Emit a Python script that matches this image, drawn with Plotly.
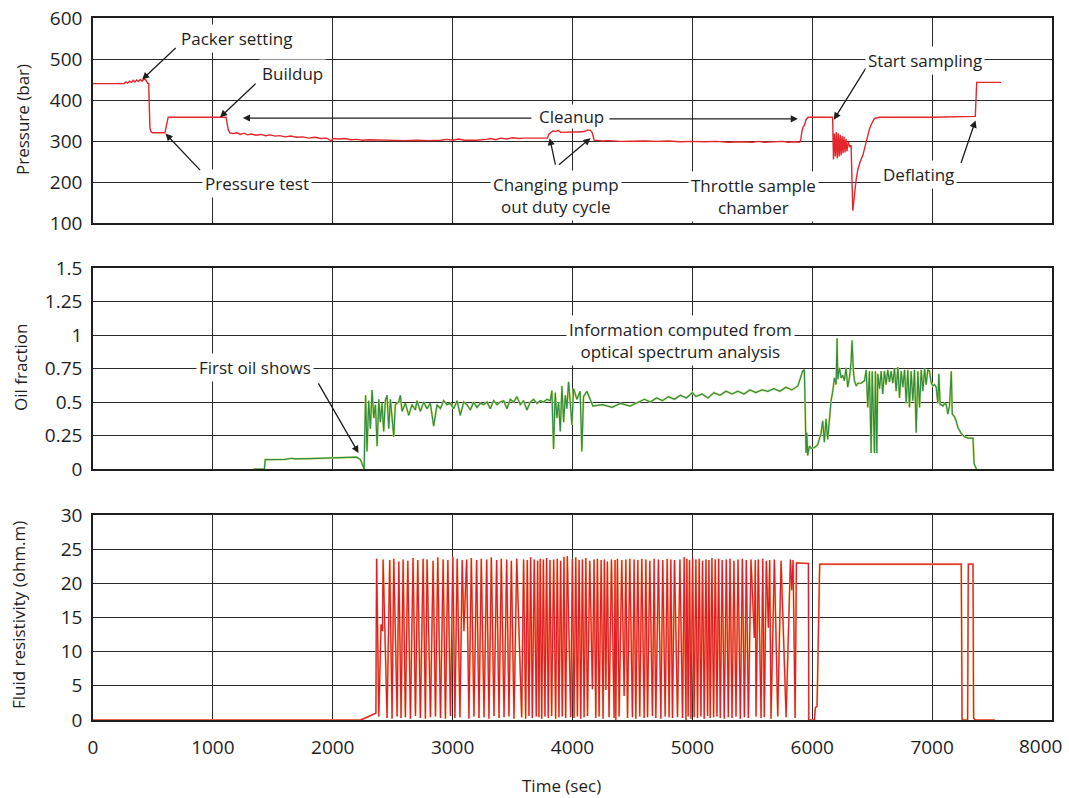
import plotly.graph_objects as go

# ---------------- data ----------------
x_ticks = [0, 1000, 2000, 3000, 4000, 5000, 6000, 7000]
x_last_tick = 8000
p_ticks = [100, 200, 300, 400, 500, 600]
oil_ticks = [0, 0.25, 0.5, 0.75, 1, 1.25, 1.5]
oil_tick_text = ["0", "0.25", "0.5", "0.75", "1", "1.25", "1.5"]
res_ticks = [0, 5, 10, 15, 20, 25, 30]

pressure_time = [0, 260, 275, 290, 305, 320, 335, 350, 365, 380, 395, 410, 425, 440, 455, 465, 470, 475, 485, 500,
                 600, 608, 615, 627, 1110, 1118, 1128, 1141, 1170, 1200, 1230, 1260, 1290, 1320, 1360, 1400, 1440,
                 1480, 1520, 1560, 1600, 1650, 1700, 1750, 1800, 1850, 1900, 1950, 1990, 2000, 2050, 2100, 2150,
                 2200, 2250, 2300, 2400, 2500, 2600, 2700, 2800, 2900, 2950, 3000, 3050, 3100, 3200, 3280, 3320,
                 3360, 3400, 3450, 3500, 3550, 3600, 3700, 3790, 3805, 3820, 3840, 3860, 3880, 3900, 3950, 4000,
                 4050, 4100, 4125, 4150, 4165, 4180, 4250, 4300, 4400, 4500, 4600, 4700, 4800, 4900, 5000, 5100,
                 5200, 5300, 5400, 5500, 5550, 5600, 5700, 5750, 5800, 5850, 5895, 5905, 5915, 5925, 5935, 5948,
                 5965, 6170, 6177, 6185, 6193, 6201, 6209, 6217, 6225, 6233, 6241, 6249, 6257, 6265, 6273, 6281,
                 6289, 6300, 6312, 6324, 6338, 6352, 6366, 6380, 6400, 6422, 6450, 6478, 6500, 6520, 6560, 7000,
                 7360, 7372, 7575]
pressure_value = [440, 440, 444, 441, 446, 443, 448, 444, 449, 445, 450, 446, 451, 449, 441, 440, 380, 332, 322, 320,
                  320, 330, 345, 358, 358, 340, 328, 320, 318, 320, 316, 319, 315, 317, 314, 316, 313,
                  315, 312, 313, 310, 312, 309, 310, 307, 309, 306, 307, 300, 306, 305, 306, 303,
                  304, 302, 303, 302, 302, 301, 302, 301, 302, 304, 302, 305, 302, 302, 304, 306,
                  303, 307, 305, 308, 306, 307, 307, 307, 318, 322, 325, 323, 326, 321, 322, 322,
                  322, 323, 327, 326, 320, 302, 300, 301, 299, 300, 300, 299, 300, 298, 299, 298,
                  299, 297, 298, 297, 299, 297, 298, 299, 297, 298, 297, 305, 325, 335, 338, 352,
                  358, 358, 255, 318, 262, 322, 258, 318, 262, 315, 265, 312, 270, 310, 272, 305,
                  275, 298, 285, 290, 130, 175, 205, 230, 250, 265, 300, 330, 345, 355, 358, 358,
                  360, 443, 443]

oil_time = [1339, 1430, 1437, 1600, 1660, 1680, 1800, 2000, 2100, 2200, 2231, 2255, 2262, 2268,
            2274, 2286, 2300, 2314, 2328, 2342, 2356, 2370, 2384, 2397, 2411, 2425, 2439, 2453, 2467, 2481,
            2495, 2509, 2522, 2550, 2564, 2578, 2606, 2634, 2661, 2689, 2703, 2731, 2759, 2786, 2814, 2842,
            2870, 2898, 2925, 2953, 2981, 3009, 3037, 3064, 3092, 3120, 3148, 3175, 3203, 3231, 3259, 3287,
            3314, 3342, 3370, 3398, 3426, 3453, 3481, 3509, 3537, 3564, 3592, 3620, 3648, 3676, 3703, 3731,
            3759, 3787, 3815, 3828, 3842, 3856, 3870, 3884, 3898, 3912, 3926, 3940, 3953, 3967, 3981, 3995,
            4009, 4037, 4064, 4078, 4092, 4120, 4170, 4250, 4330, 4400, 4480, 4550, 4600, 4650, 4700, 4750,
            4800, 4850, 4900, 4950, 5000, 5030, 5080, 5130, 5180, 5230, 5280, 5330, 5380, 5430, 5480, 5530,
            5580, 5630, 5680, 5730, 5780, 5830, 5880, 5920, 5934, 5941, 5948, 5955, 5962, 5976, 5990, 6020,
            6045, 6074, 6087, 6101, 6115, 6129, 6143, 6157, 6171, 6185, 6199, 6207, 6213, 6227, 6241, 6254,
            6268, 6282, 6296, 6310, 6324, 6332, 6343, 6352, 6366, 6380, 6408, 6436, 6450, 6463, 6477, 6491,
            6500, 6511, 6519, 6527, 6539, 6547, 6561, 6575, 6588, 6602, 6616, 6630, 6644, 6658, 6672, 6686,
            6700, 6714, 6728, 6742, 6756, 6770, 6784, 6797, 6811, 6825, 6839, 6853, 6867, 6881, 6895, 6909,
            6923, 6937, 6950, 6964, 6978, 6992, 7006, 7020, 7034, 7048, 7056, 7067, 7075, 7090, 7104, 7118,
            7131, 7145, 7160, 7168, 7187, 7200, 7215, 7243, 7271, 7299, 7341, 7350, 7370]
oil_value = [0, 0, 0.07, 0.072, 0.08, 0.075, 0.077, 0.08, 0.082, 0.088, 0.07, 0.01, 0, 0.3,
             0.55, 0.13, 0.51, 0.30, 0.59, 0.38, 0.48, 0.17, 0.52, 0.35, 0.49, 0.28, 0.51, 0.55, 0.30, 0.52,
             0.38, 0.24, 0.48, 0.50, 0.55, 0.43, 0.49, 0.40, 0.48, 0.44, 0.51, 0.43, 0.50, 0.45, 0.49, 0.32,
             0.48, 0.45, 0.51, 0.48, 0.49, 0.45, 0.51, 0.40, 0.50, 0.48, 0.44, 0.50, 0.46, 0.49, 0.48, 0.50,
             0.45, 0.51, 0.48, 0.50, 0.51, 0.45, 0.52, 0.50, 0.54, 0.48, 0.51, 0.44, 0.50, 0.52, 0.49, 0.51,
             0.50, 0.52, 0.51, 0.585, 0.15, 0.57, 0.38, 0.50, 0.28, 0.62, 0.35, 0.55, 0.45, 0.65, 0.50, 0.33,
             0.60, 0.52, 0.58, 0.13, 0.54, 0.58, 0.47, 0.48, 0.46, 0.49, 0.47, 0.50, 0.52, 0.50, 0.53, 0.51,
             0.54, 0.52, 0.55, 0.53, 0.57, 0.54, 0.56, 0.53, 0.57, 0.55, 0.58, 0.56, 0.58, 0.56, 0.59, 0.57,
             0.59, 0.58, 0.60, 0.58, 0.61, 0.59, 0.62, 0.73, 0.74, 0.46, 0.12, 0.27, 0.10, 0.17, 0.155, 0.16,
             0.18, 0.27, 0.36, 0.20, 0.375, 0.22, 0.36, 0.51, 0.58, 0.68, 0.63, 0.975, 0.67, 0.755, 0.68, 0.70,
             0.66, 0.755, 0.61, 0.68, 0.80, 0.96, 0.73, 0.66, 0.62, 0.64, 0.64, 0.66, 0.74, 0.46, 0.73, 0.12,
             0.73, 0.34, 0.12, 0.73, 0.12, 0.71, 0.60, 0.73, 0.56, 0.73, 0.63, 0.74, 0.65, 0.73, 0.64, 0.75,
             0.58, 0.76, 0.53, 0.73, 0.61, 0.74, 0.49, 0.74, 0.46, 0.73, 0.51, 0.74, 0.27, 0.73, 0.46, 0.74,
             0.58, 0.75, 0.63, 0.74, 0.73, 0.645, 0.62, 0.63, 0.61, 0.49, 0.71, 0.48, 0.48, 0.47, 0.49, 0.48,
             0.41, 0.47, 0.73, 0.41, 0.39, 0.36, 0.31, 0.265, 0.24, 0.23, 0.23, 0.04, 0]

res_time = [0, 2230, 2260, 2300, 2340, 2360, 2366, 2384, 2403, 2415, 2420, 2453, 2475, 2495, 2509, 2537, 2551,
            2570, 2587, 2606, 2626, 2648, 2670, 2690, 2709, 2731, 2754, 2773, 2787, 2815, 2837, 2857, 2876,
            2899, 2921, 2940, 2960, 2982, 3002, 3019, 3038, 3061, 3080, 3094, 3117, 3136, 3156, 3178, 3200,
            3220, 3239, 3262, 3284, 3303, 3323, 3345, 3367, 3387, 3406, 3429, 3451, 3470, 3490, 3512, 3535,
            3576, 3592, 3609, 3623, 3637, 3651, 3665, 3681, 3698, 3709, 3720, 3731, 3743, 3757, 3770, 3784,
            3798, 3812, 3826, 3843, 3859, 3873, 3887, 3901, 3915, 3929, 3943, 3957, 3985, 3999, 4013, 4027,
            4041, 4055, 4069, 4083, 4097, 4111, 4125, 4144, 4166, 4180, 4194, 4208, 4222, 4239, 4255, 4266,
            4278, 4291, 4305, 4325, 4347, 4355, 4361, 4375, 4389, 4411, 4431, 4445, 4459, 4478, 4500, 4514,
            4528, 4545, 4561, 4578, 4598, 4612, 4626, 4645, 4667, 4681, 4695, 4717, 4737, 4753, 4773, 4790,
            4806, 4820, 4834, 4851, 4876, 4896, 4918, 4932, 4946, 4954, 4965, 4976, 4988, 5002, 5015, 5029,
            5043, 5057, 5071, 5085, 5099, 5113, 5127, 5138, 5149, 5163, 5177, 5191, 5205, 5219, 5233, 5249,
            5266, 5283, 5300, 5314, 5331, 5347, 5364, 5381, 5400, 5417, 5434, 5450, 5467, 5489, 5517, 5525,
            5531, 5550, 5573, 5587, 5600, 5617, 5634, 5645, 5656, 5684, 5712, 5740, 5782, 5818, 5829, 5840,
            5857, 5868, 5968, 5971, 6018, 6026, 6040, 6062, 7243, 7250, 7296, 7302, 7341, 7346, 7360, 7523]
res_value = [0, 0, 0.2, 0.5, 0.8, 1.0, 23.6, 0.5, 14, 13, 23.5, 0.3, 23.4, 0.2, 23.6, 0.5, 23.2,
             0.3, 23.5, 0.4, 23.3, 0.2, 23.7, 0.6, 23.4, 0.3, 23.6, 0.2, 23.5, 0.4, 23.3, 0.5, 23.8,
             0.3, 23.5, 0.2, 23.4, 0.6, 23.9, 0.3, 23.6, 0.4, 23.4, 13.0, 23.5, 0.2, 23.7, 0.5, 23.4,
             0.3, 23.6, 0.4, 23.5, 0.2, 23.8, 0.6, 23.4, 0.3, 23.6, 0.4, 23.5, 0.5, 23.3, 0.2, 23.6,
             0.4, 23.5, 0.2, 23.4, 0.6, 23.8, 0.3, 23.5, 0.5, 23.3, 0.4, 23.6, 0.2, 23.5, 0.5, 23.7,
             0.3, 23.4, 0.6, 23.5, 0.2, 23.6, 0.4, 23.3, 0.5, 23.9, 0.3, 24.0, 0.4, 23.6, 0.3, 23.8,
             0.5, 23.4, 0.2, 23.5, 0.4, 23.7, 0.6, 23.3, 4.5, 23.5, 0.3, 23.6, 0.5, 23.4, 0.2, 23.5,
             4.4, 23.2, 0.4, 23.5, 0.3, 23.4, 0.0, 23.6, 0.5, 23.4, 3.5, 23.5, 0.3, 23.6, 0.4, 23.5,
             0.2, 23.4, 0.5, 23.6, 0.3, 23.5, 0.4, 23.3, 0.6, 23.6, 0.3, 23.5, 0.2, 23.4, 0.5, 23.6,
             0.4, 23.5, 0.3, 23.4, 0.4, 23.5, 0.3, 23.8, 0.0, 23.6, 0.5, 23.4, 0.2, 23.7, 0.4, 23.5,
             0.3, 23.6, 0.5, 23.3, 0.2, 23.5, 0.6, 23.4, 0.3, 23.7, 0.4, 23.5, 0.5, 23.6, 0.3, 23.4,
             0.2, 23.5, 0.4, 23.6, 0.3, 23.3, 0.5, 23.5, 0.2, 23.6, 0.4, 23.4, 0.3, 23.5, 12.0, 23.4,
             0.5, 23.5, 0.3, 23.6, 0.4, 23.3, 13.5, 23.4, 0.2, 23.5, 0.5, 23.3, 0.4, 23.5, 19.0, 23.4,
             0.3, 23.0, 22.9, 0, 0, 1.8, 2.0, 22.8, 22.8, 0, 0, 22.8, 22.8, 0.3, 0, 0]

# ---------------- figure ----------------
W, H = 1069, 798
FONT = "Open Sans"
TXT = "#1e1e1e"
GRID = "#2b2b2b"

x_dom = [93 / W, 1052 / W]
dom_top = [1 - 223 / H, 1 - 18 / H]
dom_mid = [1 - 469 / H, 1 - 268 / H]
dom_bot = [1 - 720 / H, 1 - 515 / H]

fig = go.Figure()

fig.add_trace(go.Scatter(x=pressure_time, y=pressure_value, mode="lines",
                         line=dict(color="#e2262c", width=1.4), xaxis="x", yaxis="y"))

fig.add_trace(go.Scatter(x=oil_time, y=oil_value, mode="lines",
                         line=dict(color="#d2e27e", width=2.2), xaxis="x2", yaxis="y2", hoverinfo="skip"))
fig.add_trace(go.Scatter(x=oil_time, y=oil_value, mode="lines",
                         line=dict(color="#2f8c45", width=1.2), xaxis="x2", yaxis="y2"))

fig.add_trace(go.Scatter(x=res_time, y=res_value, mode="lines",
                         line=dict(color="#f5b070", width=1.9), xaxis="x3", yaxis="y3", hoverinfo="skip"))
fig.add_trace(go.Scatter(x=res_time, y=res_value, mode="lines",
                         line=dict(color="#e31d28", width=1.2), xaxis="x3", yaxis="y3"))

axis_common = dict(showgrid=True, gridcolor=GRID, gridwidth=1.3, zeroline=False, automargin=False,
                   showline=True, linecolor="#1e1e1e", linewidth=1.6, mirror=True, ticks="",
                   tickfont=dict(family=FONT, size=19, color=TXT))

x_common = dict(axis_common, range=[0, 8000], domain=x_dom)
x_grid = x_ticks + [x_last_tick]

fig.update_layout(
    width=W, height=H, margin=dict(l=0, r=0, t=0, b=0, autoexpand=False),
    paper_bgcolor="white", plot_bgcolor="white", showlegend=False,
    font=dict(family=FONT, color=TXT),
    xaxis=dict(x_common, anchor="y", tickvals=x_grid, showticklabels=False),
    xaxis2=dict(x_common, anchor="y2", tickvals=x_grid, showticklabels=False),
    xaxis3=dict(x_common, anchor="y3", tickvals=x_ticks, showticklabels=True, ticklabelstandoff=9),
    yaxis=dict(axis_common, range=[100, 600], tickvals=p_ticks, domain=dom_top, anchor="x",
               ticklabelstandoff=5),
    yaxis2=dict(axis_common, range=[0, 1.5], tickvals=oil_ticks, ticktext=oil_tick_text,
                domain=dom_mid, anchor="x2", ticklabelstandoff=5),
    yaxis3=dict(axis_common, range=[0, 30], tickvals=res_ticks, domain=dom_bot, anchor="x3",
                ticklabelstandoff=5),
)

# last x tick label placed inside the page (it sits on the right border)
fig.add_annotation(text=str(x_last_tick), x=1040 / W, y=1 - 746 / H, xref="paper", yref="paper",
                   showarrow=False, xanchor="center", yanchor="middle",
                   font=dict(family=FONT, size=19, color=TXT))


def label(text, x_px, y_px, size=17, pad=2):
    fig.add_annotation(text=text, x=x_px / W, y=1 - y_px / H, xref="paper", yref="paper",
                       showarrow=False, bgcolor="white", borderpad=pad,
                       font=dict(family=FONT, size=size, color=TXT), xanchor="center", yanchor="middle")


def arrow(xd, yd, ax, ay, xref, yref):
    fig.add_annotation(text="", x=xd, y=yd, xref=xref, yref=yref, ax=ax, ay=ay,
                       showarrow=True, arrowhead=2, arrowsize=1.1, arrowwidth=1.3, arrowcolor="#1e1e1e")


# axis titles
for text, x_px, y_px in [("Pressure (bar)", 22, 120), ("Oil fraction", 20, 368),
                         ("Fluid resistivity (ohm.m)", 18, 615)]:
    fig.add_annotation(text=text, x=x_px / W, y=1 - y_px / H, xref="paper", yref="paper",
                       showarrow=False, textangle=-90, xanchor="center", yanchor="middle",
                       font=dict(family=FONT, size=17, color=TXT))
fig.add_annotation(text="Time (sec)", x=561 / W, y=1 - 785 / H, xref="paper", yref="paper",
                   showarrow=False, xanchor="center", yanchor="middle",
                   font=dict(family=FONT, size=17, color=TXT))

# arrows in the pressure and oil panels
arrow(410, 450, 35, -33, "x", "y")          # packer setting
arrow(1060, 358, 37, -35, "x", "y")         # buildup
arrow(605, 318, 36, 38, "x", "y")           # pressure test
arrow(1250, 356, 290, 0, "x", "y")          # cleanup left
arrow(5880, 354, -190, 0, "x", "y")         # cleanup right
arrow(3810, 307, 6, 28, "x", "y")           # changing pump 1
arrow(4150, 307, -33, 28, "x", "y")         # changing pump 2
arrow(6180, 352, 33, -53, "x", "y")         # start sampling
arrow(7362, 350, -15, 44, "x", "y")         # deflating
arrow(2215, 0.12, -41, -71, "x2", "y2")     # first oil shows

# text labels with white boxes
label("Packer setting", 236, 38)
label("Buildup", 292, 74)
label("Pressure test", 257, 183)
label("Cleanup", 571, 116, pad=0)
label("Changing pump<br>out duty cycle", 556, 195)
label("Throttle sample<br>chamber", 753, 196)
label("Start sampling", 925, 60)
label("Deflating", 918, 174)
label("First oil shows", 255, 367)
label("Information computed from<br>optical spectrum analysis", 680, 340)

fig.write_html("out.html")
